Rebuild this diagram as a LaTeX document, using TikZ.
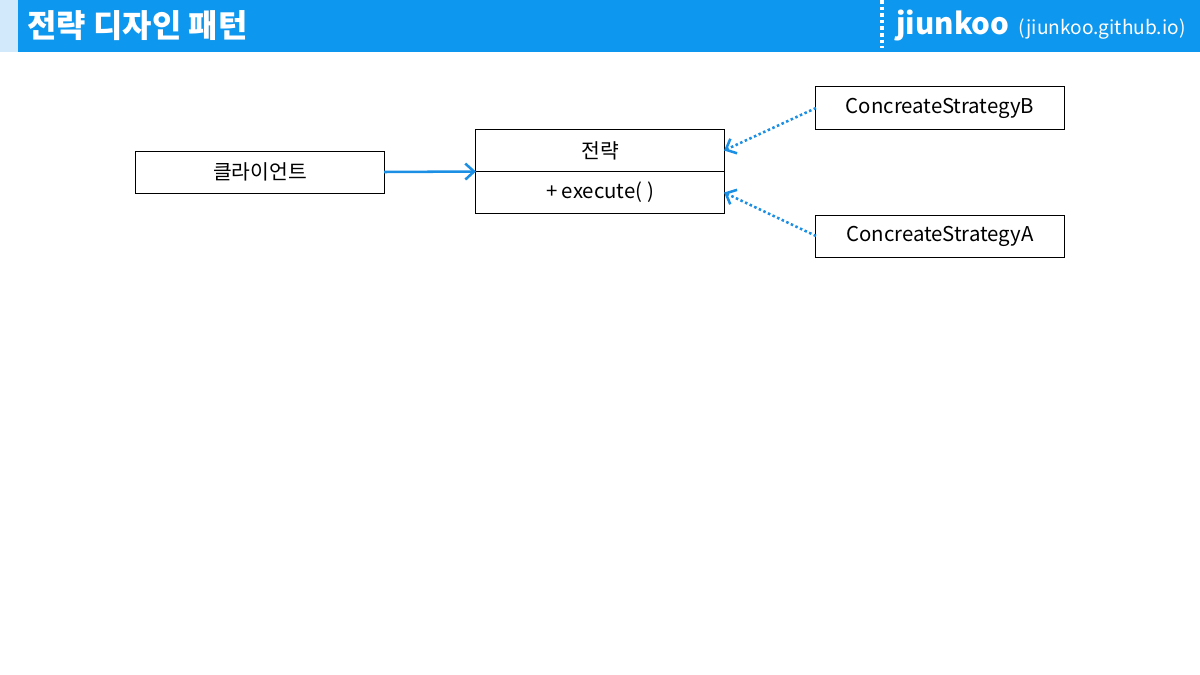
\documentclass[tikz,border=0pt]{standalone}
\usepackage{fontspec}
\setmainfont{Noto Sans CJK KR}
\usetikzlibrary{arrows.meta, positioning}
\definecolor{hdrblue}{HTML}{0E97EE}
\definecolor{hdrlight}{HTML}{D2E9FB}
\definecolor{arrblue}{HTML}{1A8FE3}
\tikzset{
  cls/.style={draw, line width=0.7pt, fill=white, minimum width=6.2cm, minimum height=1.05cm,
    inner sep=0pt, outer sep=0pt, font=\fontsize{14.5}{17}\selectfont},
  arr/.style={-{Straight Barb[length=2.2mm, width=4mm]}, arrblue, line width=1.8pt},
  dep/.style={arr, dash pattern=on 1.8pt off 1.8pt},
}
\begin{document}
\begin{tikzpicture}[x=0.025cm, y=-0.025cm]
  \useasboundingbox (0,0) rectangle (1200,675);
  % header
  \fill[hdrlight] (0,0) rectangle (18,52);
  \fill[hdrblue] (18,0) rectangle (1200,52);
  \node[anchor=west, inner sep=0pt, text=white, font=\fontsize{22.7}{26}\selectfont\bfseries] (title) at (27,26) {전략 디자인 패턴};
  \draw[white, line width=2.2pt, dash pattern=on 2.5pt off 2.2pt] (882,0) -- (882,48);
  \node[anchor=west, inner sep=0pt, text=white, font=\fontsize{21}{24}\selectfont\bfseries] (brand) at (896,25) {jiunkoo};
  \node[anchor=base west, inner sep=0pt, text=white, font=\fontsize{13.6}{16}\selectfont] (url) at ([xshift=6pt]brand.base east) {(jiunkoo.github.io)};

  % classes
  \node[cls] (client) at (260,172) {클라이언트};
  \node[cls] (strat) at (600,150.5) {전략};
  \node[cls, below=0pt of strat] (exec) {+ execute( )};
  \node[cls] (conB) at (940,108) {ConcreateStrategyB};
  \node[cls] (conA) at (940,236) {ConcreateStrategyA};

  \draw[arr] (client.east) -- (strat.south west);
  \draw[dep] (conB.west) -- (strat.east);
  \draw[dep] (conA.west) -- (exec.east);
\end{tikzpicture}
\end{document}
